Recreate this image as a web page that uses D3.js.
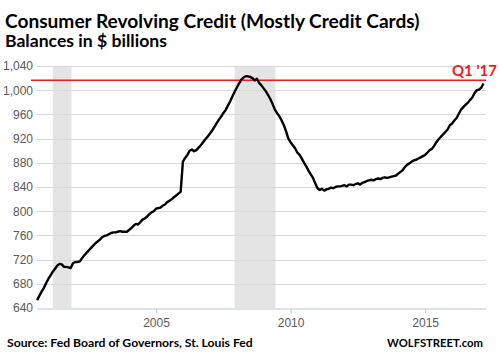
<!DOCTYPE html>
<html><head><meta charset="utf-8">
<script src="https://cdn.jsdelivr.net/npm/d3@7"></script>
<style>
html,body{margin:0;padding:0;background:#fff;}
svg{display:block;}
</style></head>
<body>
<svg id="chart" width="499" height="360"></svg>
<script>
// ---- data (monthly, starting Aug 2000), $ billions ----
const startYear = 2000, startMonth = 8;
const balances = [
  653,660,667,673,681,                                  // 2000 Aug-Dec
  688,694,700,705,710,713,712,708,708,707,706,714,      // 2001
  716,716,717,722,727,731,735,739,743,747,750,753,      // 2002
  757,759,760,762,764,765,765,766,767,766,766,766,      // 2003
  769,772,776,779,778,782,786,788,791,795,798,800,      // 2004
  804,805,806,809,811,815,817,820,823,826,829,832,      // 2005
  882,888,893,900,902,899,901,905,909,914,919,923,      // 2006
  928,933,939,945,951,956,962,967,974,981,989,997,      // 2007
  1004,1011,1017,1021,1023,1023,1022,1020,1016,1019,1012,1008, // 2008
  1003,998,992,985,977,968,962,957,950,942,932,920,     // 2009
  914,909,904,897,893,887,880,874,867,861,855,846,      // 2010
  838,835,837,834,836,837,839,838,840,841,841,842,      // 2011
  843,841,844,844,843,845,846,844,847,848,850,851,      // 2012
  852,851,853,854,853,855,856,855,856,857,858,859,      // 2013
  862,865,868,873,877,879,882,884,885,887,889,891,      // 2014
  893,897,901,903,908,914,919,923,927,931,935,942,      // 2015
  945,950,954,961,968,972,976,979,984,988,995,1000,     // 2016
  1001,1004,1011                                        // 2017 Jan-Mar
];
const recessionStarts = [2001.17, 2007.92];
const recessionEnds   = [2001.86, 2009.44];
const yTicks = [640,680,720,760,800,840,880,920,960,1000,1040];
const xTicks = [2005,2010,2015];
const referenceLevel = 1016.5;
const referenceLabel = "Q1 '17";
const xDomain = [2000.58, 2017.26];

const titleText = "Consumer Revolving Credit (Mostly Credit Cards)";
const subtitleText = "Balances in $ billions";
const sourceText = "Source: Fed Board of Governors, St. Louis Fed";
const brandText = "WOLFSTREET.com";

// ---- build ----
const data = balances.map((v,i)=>({t: startYear + (startMonth-1+i)/12, v}));
const svg = d3.select("#chart");
const L = 37, R = 486, T = 66, B = 308;
const x = d3.scaleLinear().domain(xDomain).range([L,R]);
const y = d3.scaleLinear().domain([640,1040]).range([B,T]);
const labelFont = "'Liberation Sans', Arial, sans-serif";
const headFont = "Lato, 'Open Sans', sans-serif";

// recession shading
svg.append("g").selectAll("rect").data(recessionStarts).join("rect")
  .attr("x", d=>x(d)).attr("y", T)
  .attr("width", (d,i)=>x(recessionEnds[i])-x(d)).attr("height", B-T)
  .attr("fill","#e4e4e4");

// gridlines
svg.append("g").selectAll("line").data(yTicks.slice(1)).join("line")
  .attr("x1",L).attr("x2",R).attr("y1",d=>Math.round(y(d))+0.5).attr("y2",d=>Math.round(y(d))+0.5)
  .attr("stroke","#d9d9d9").attr("stroke-width",1);

// y axis labels
const yAxis = svg.append("g").attr("transform",`translate(${L},0)`)
  .call(d3.axisLeft(y).tickValues(yTicks).tickSize(0).tickPadding(4).tickFormat(d3.format(",")));
yAxis.select(".domain").remove();
yAxis.selectAll("text").attr("fill","#595959").style("font-family",labelFont).style("font-size","12px");

// x axis
const xAxis = svg.append("g").attr("transform",`translate(0,${Math.round(B)+0.5})`)
  .call(d3.axisBottom(x).tickValues(xTicks).tickSize(5).tickSizeOuter(0).tickPadding(5).tickFormat(d3.format("d")));
xAxis.select(".domain").attr("stroke","#bcc7d4");
xAxis.selectAll(".tick line").attr("stroke","#bcc7d4");
xAxis.selectAll("text").attr("fill","#595959").style("font-family",labelFont).style("font-size","12px");

// reference line
svg.append("line").attr("x1",31).attr("x2",R)
  .attr("y1",y(referenceLevel)).attr("y2",y(referenceLevel))
  .attr("stroke","#ee1c25").attr("stroke-width",1.5);
svg.append("text").attr("x",497).attr("y",y(referenceLevel)-4).attr("text-anchor","end")
  .attr("fill","#ee1c25").style("font-family",headFont).style("font-weight","bold").style("font-size","15px")
  .text(referenceLabel);

// data line
svg.append("path").datum(data)
  .attr("d", d3.line().x(d=>x(d.t)).y(d=>y(d.v)))
  .attr("fill","none").attr("stroke","#000").attr("stroke-width",2.4).attr("stroke-linejoin","round");

// texts
function fitText(sel, target, base){
  const w = sel.node().getComputedTextLength();
  if (w>0) sel.style("font-size", (base*target/w).toFixed(2)+"px");
}
const title = svg.append("text").attr("x",5).attr("y",28).attr("fill","#000")
  .style("font-family",headFont).style("font-weight","bold").style("font-size","20px").text(titleText);
fitText(title, 415, 20);
const sub = svg.append("text").attr("x",5).attr("y",47).attr("fill","#000")
  .style("font-family",headFont).style("font-weight","bold").style("font-size","16px").text(subtitleText);
fitText(sub, 162, 16);
const src = svg.append("text").attr("x",7).attr("y",347).attr("fill","#000")
  .style("font-family",headFont).style("font-weight","bold").style("font-size","13px").text(sourceText);
fitText(src, 246, 13);
const brand = svg.append("text").attr("x",387).attr("y",347).attr("fill","#000")
  .style("font-family",headFont).style("font-weight","bold").style("font-size","13px").text(brandText);
fitText(brand, 96, 13);
</script>
</body></html>
